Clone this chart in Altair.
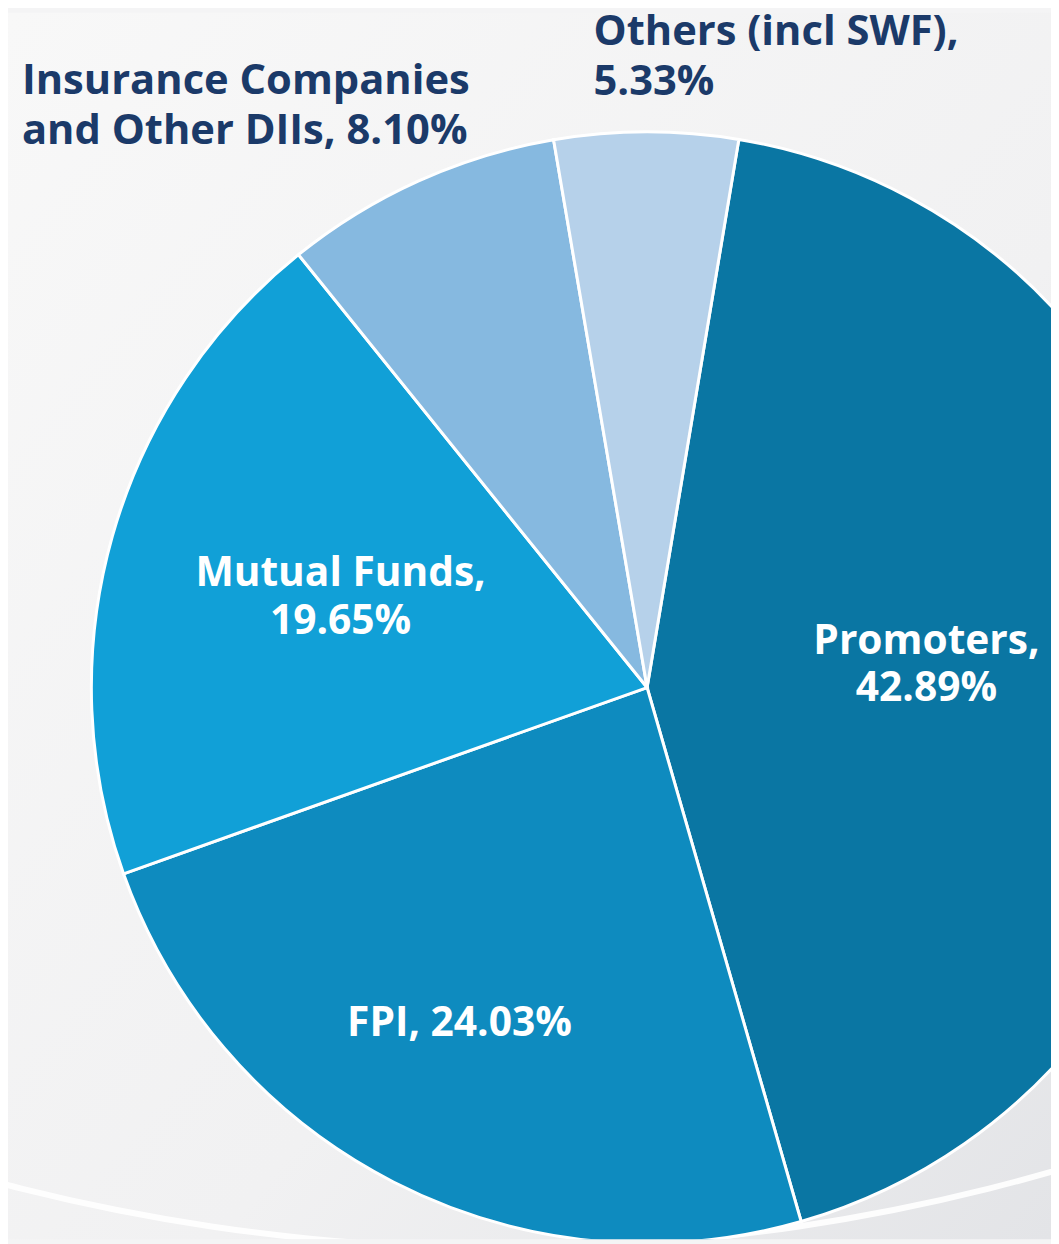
import math
import altair as alt
import pandas as pd

# ---- data ----
categories = [
    "Promoters",
    "FPI",
    "Mutual Funds",
    "Insurance Companies and Other DIIs",
    "Others (incl SWF)",
]
shares = [42.89, 24.03, 19.65, 8.10, 5.33]
labels = [
    "Promoters,\n42.89%",
    "FPI, 24.03%",
    "Mutual Funds,\n19.65%",
    "Insurance Companies\nand Other DIIs, 8.10%",
    "Others (incl SWF),\n5.33%",
]
colors = ["#0a76a3", "#0e8bbf", "#11a0d7", "#86b9e0", "#b6d1ea"]

df = pd.DataFrame({
    "cat": categories,
    "share": shares,
    "order": list(range(len(categories))),
    "label": labels,
})

W, H = 1051, 1236
CX, CY, R = 644, 680, 560
START = math.radians(9.5)
FONT = "Open Sans"
NAVY = "#1b3a69"

theta_scale = alt.Scale(domain=[0, 100], range=[START, START + 2 * math.pi])
color_scale = alt.Scale(domain=categories, range=colors)

base = alt.Chart(df).encode(
    theta=alt.Theta("share:Q", stack=True, scale=theta_scale),
    order=alt.Order("order:Q"),
)

single = alt.Data(values=[{"k": 1}])

bg = alt.Chart(single).mark_rect(
    color=alt.LinearGradient(
        gradient="linear",
        x1=0, y1=0, x2=1, y2=1,
        stops=[
            alt.GradientStop(offset=0, color="#f8f8f8"),
            alt.GradientStop(offset=0.6, color="#f1f1f2"),
            alt.GradientStop(offset=1, color="#e3e4e7"),
        ],
    )
).encode(
    x=alt.value(0), x2=alt.value(W), y=alt.value(0), y2=alt.value(H)
)

# decorative white swoosh in the background
swoosh = alt.Chart(single).mark_arc(
    innerRadius=2003, outerRadius=2009, color="white", opacity=0.9, clip=True
).encode(
    theta=alt.value(0), theta2=alt.value(2 * math.pi),
    x=alt.value(501), y=alt.value(-761),
)

arcs = base.mark_arc(
    outerRadius=R, stroke="white", strokeWidth=3, clip=True
).encode(
    color=alt.Color("cat:N", scale=color_scale, legend=None),
    x=alt.value(CX),
    y=alt.value(CY),
)


def inner_label(cat, radius, dx=0, dy=0):
    return base.transform_calculate(
        t=f"datum.cat == '{cat}' ? datum.label : ''"
    ).mark_text(
        radius=radius, dx=dx, dy=dy, font=FONT, fontWeight="bold",
        fontSize=41, color="white", lineBreak="\n", lineHeight=48,
        align="center", baseline="middle",
    ).encode(
        text="t:N",
        detail="cat:N",
        x=alt.value(CX),
        y=alt.value(CY),
    )


def outer_label(cat, px, py):
    return alt.Chart(df).transform_filter(
        f"datum.cat == '{cat}'"
    ).mark_text(
        font=FONT, fontWeight="bold", fontSize=42, color=NAVY,
        lineBreak="\n", lineHeight=50, align="left", baseline="alphabetic",
    ).encode(
        text="label:N",
        x=alt.value(px),
        y=alt.value(py),
    )


chart = alt.layer(
    bg,
    swoosh,
    arcs,
    inner_label("Promoters", 282, 0, -30),
    inner_label("FPI", 388, -12, -6),
    inner_label("Mutual Funds", 321, 0, -27),
    outer_label("Insurance Companies and Other DIIs", 14, 82),
    outer_label("Others (incl SWF)", 590, 33),
).properties(
    width=W, height=H, padding=0, autosize=alt.AutoSizeParams(type="none"),
    background="#f4f4f5",
).configure_view(strokeWidth=0)

chart.save("out.html", embed_options={"renderer": "svg", "actions": False})
